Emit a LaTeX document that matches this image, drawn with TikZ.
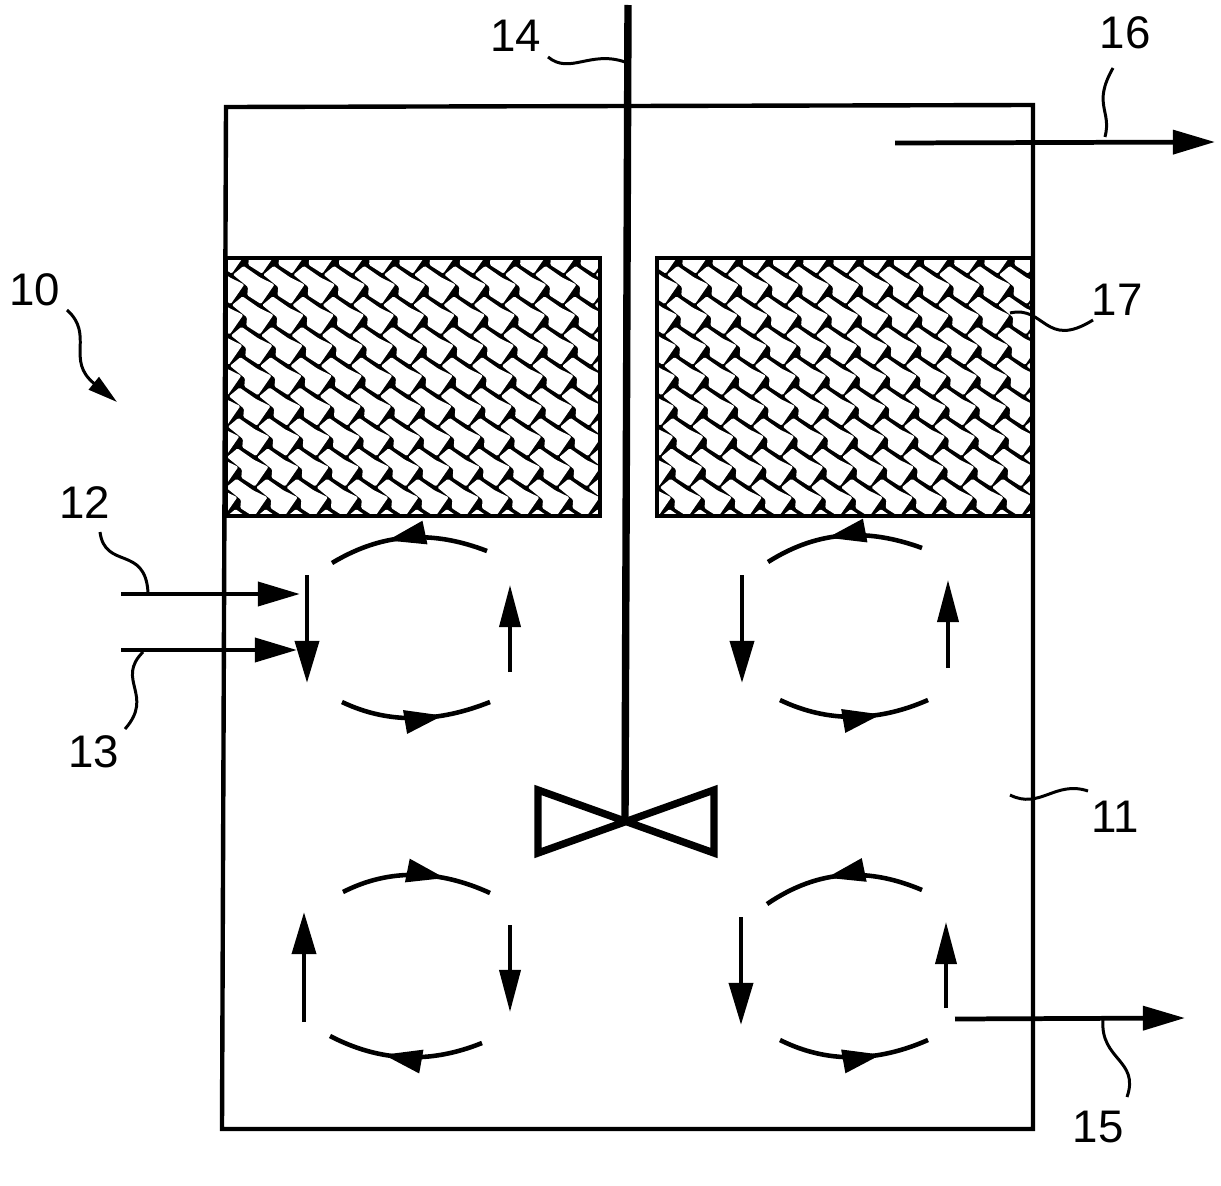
\documentclass[tikz,border=0pt]{standalone}
\usepackage{fontspec}
\setmainfont{Liberation Sans}
\usetikzlibrary{arrows.meta,decorations.markings}
\tikzset{
    wall/.style={line width=2.5pt,line join=miter},
    flow/.style={line width=2.7pt,-{Triangle[length=24pt,width=13.5pt]}},
    smallflow/.style={line width=2.1pt,-{Triangle[length=24pt,width=12pt]}},
    swirl/.style={line width=2.6pt,postaction={decorate},
        decoration={markings,mark=at position #1 with {\arrow{Triangle[length=22pt,width=13pt]}}}},
    lead/.style={line width=1.7pt},
    tag/.style={font=\fontsize{26}{26}\selectfont,inner sep=0pt}
}
\begin{document}
\begin{tikzpicture}[x=0.02cm,y=-0.02cm]
    \useasboundingbox (0,0) rectangle (1221,1186);

    % packing
    \foreach \xa/\xb/\xo in {226/600/243,657/1032/677}{
        \fill (\xa,258) rectangle (\xb,516);
        \begin{scope}
            \clip (\xa+2,260) rectangle (\xb-2,514);
            \foreach \i in {-3,...,14}{
                \foreach \j in {-1,...,8}{
                    \fill[white,rounded corners=0.7pt,shift={(\i*30.2-\j*1+\xo,\j*30.4+268)}]
                        (0.5,-2) -- (17,9.5) -- (31.5,16.5) -- (18,36) -- (4.3,27.3) -- (5,19) -- (-10,6.7) -- cycle;
                }
            }
        \end{scope}
        \draw[wall] (\xa,258) rectangle (\xb,516);
    }

    % vessel
    \draw[wall] (226,107) -- (1033,105) -- (1033,1129) -- (222,1129) -- cycle;

    % shaft and blades
    \coordinate (shafttop) at (628,5);
    \coordinate (hub) at (625,820);
    \draw[line width=4.2pt] (shafttop) -- (hub);
    \draw[line width=4.2pt,line join=miter] (538,790) -- (714,853) -- (714,790) -- (538,853) -- cycle;

    % feeds and outlets
    \coordinate (feeda) at (121,594);
    \coordinate (feedaend) at (300,594);
    \coordinate (feedb) at (121,650);
    \coordinate (feedbend) at (297,650);
    \coordinate (drain) at (955,1019);
    \coordinate (drainend) at (1185,1018);
    \coordinate (vent) at (895,143);
    \coordinate (ventend) at (1215,142);
    \draw[flow] (feeda) -- (feedaend);
    \draw[flow] (feedb) -- (feedbend);
    \draw[flow] (drain) -- (drainend);
    \draw[flow] (vent) -- (ventend);

    % upper left loop
    \draw[flow] (307,575) -- (307,683);
    \draw[smallflow] (510,672) -- (510,585);
    \draw[swirl=0.63] (487,551) .. controls (435,531) and (385,531) .. (332,563);
    \draw[swirl=0.68] (342,702) .. controls (390,725) and (440,722) .. (490,702);

    % upper right loop
    \draw[flow] (742,575) -- (742,683);
    \draw[smallflow] (948,668) -- (948,580);
    \draw[swirl=0.6] (922,548) .. controls (870,529) and (820,529) .. (768,562);
    \draw[swirl=0.68] (780,700) .. controls (828,723) and (878,722) .. (928,700);

    % lower left loop
    \draw[flow] (304,1022) -- (304,912);
    \draw[smallflow] (510,925) -- (510,1012);
    \draw[swirl=0.69] (343,892) .. controls (390,868) and (440,870) .. (490,893);
    \draw[swirl=0.64] (482,1043) .. controls (430,1064) and (380,1062) .. (330,1036);

    % lower right loop
    \draw[flow] (741,917) -- (741,1025);
    \draw[smallflow] (946,1008) -- (946,922);
    \draw[swirl=0.6] (922,890) .. controls (870,868) and (820,868) .. (767,904);
    \draw[swirl=0.68] (780,1040) .. controls (828,1064) and (878,1062) .. (928,1040);

    % labels
    \node[tag] (n10) at (35,290) {10};
    \node[tag] (n11) at (1115,817) {11};
    \node[tag] (n12) at (85,503) {12};
    \node[tag] (n13) at (94,752) {13};
    \node[tag] (n14) at (516,36) {14};
    \node[tag] (n15) at (1098,1127) {15};
    \node[tag] (n16) at (1125,33) {16};
    \node[tag] (n17) at (1117,300) {17};

    % leaders
    \draw[lead] (548,57) .. controls (570,75) and (590,50) .. (625,62);
    \draw[lead] (1105,137) .. controls (1112,110) and (1092,105) .. (1113,68);
    \draw[lead] (100,532) .. controls (105,570) and (145,545) .. (148,592);
    \draw[lead] (143,652) .. controls (115,680) and (155,695) .. (125,729);
    \draw[lead] (1103,1020) .. controls (1100,1060) and (1140,1060) .. (1127,1097);
    \draw[lead] (1010,795) .. controls (1040,810) and (1055,780) .. (1088,791);
    \draw[lead] (1010,313) .. controls (1045,305) and (1045,350) .. (1093,320);
    \draw[lead,-{Triangle[length=17pt,width=9pt]}] (67,310) .. controls (95,335) and (65,360) .. (117,402);
\end{tikzpicture}
\end{document}
